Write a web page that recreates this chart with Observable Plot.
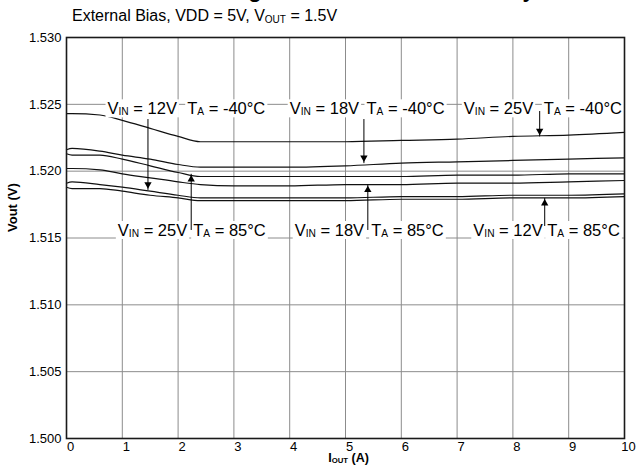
<!DOCTYPE html>
<html><head><meta charset="utf-8">
<script src="https://cdn.jsdelivr.net/npm/d3@7"></script>
<script src="https://cdn.jsdelivr.net/npm/@observablehq/plot@0.6"></script>
<style>
html,body{margin:0;padding:0;background:#fff;overflow:hidden;}
#wrap{position:relative;width:637px;height:465px;overflow:hidden;font-family:"Liberation Sans",Arial,sans-serif;color:#000;}
#title{position:absolute;left:0;width:696px;text-align:center;top:-21px;font-size:22px;line-height:22px;font-weight:bold;white-space:nowrap;}
#subtitle{position:absolute;left:72px;top:8px;font-size:16px;line-height:16px;white-space:nowrap;}
#subtitle sub{font-size:10px;vertical-align:baseline;position:relative;top:2px;}
#chart{position:absolute;left:0;top:26px;}
</style></head>
<body><div id="wrap"><div id="title"></div><div id="subtitle"></div><div id="chart"></div></div>
<script>
// ---------- data ----------
const titleText = "Load Regulation and Line Accuracy";
const subtitleMain = "External Bias, VDD = 5V, V";
const subtitleSub = "OUT";
const subtitleTail = " = 1.5V";
const xLabel = "I_{OUT} (A)";
const yLabel = "Vout (V)";

const xTicks = [0, 1, 2, 3, 4, 5, 6, 7, 8, 9, 10];
const yTicks = [1.500, 1.505, 1.510, 1.515, 1.520, 1.525, 1.530];

const current = [0, 0.1, 0.6, 1.0, 1.5, 2.0, 2.4, 3, 4, 5, 6, 7, 8, 9, 10];
const seriesNames = ["VIN 25V, -40°C", "VIN 18V, -40°C", "VIN 25V, 85°C", "VIN 18V, 85°C", "VIN 12V, -40°C", "VIN 12V, 85°C"];
const vout25m40 = [1.5243, 1.5243, 1.5242, 1.5238, 1.5232, 1.5226, 1.5222, 1.5222, 1.5222, 1.5222, 1.5223, 1.5224, 1.5226, 1.5227, 1.5229];
const vout18m40 = [1.5216, 1.5217, 1.5215, 1.5212, 1.5209, 1.5205, 1.5203, 1.5203, 1.5203, 1.5204, 1.5206, 1.5207, 1.5208, 1.5209, 1.5210];
const vout25p85 = [1.5213, 1.5212, 1.5212, 1.5209, 1.5204, 1.5199, 1.5196, 1.5196, 1.5196, 1.5196, 1.5196, 1.5197, 1.5197, 1.5198, 1.5198];
const vout18p85 = [1.5202, 1.5202, 1.5201, 1.5198, 1.5195, 1.5192, 1.5190, 1.5189, 1.5189, 1.5190, 1.5190, 1.5191, 1.5191, 1.5192, 1.5193];
const vout12m40 = [1.5191, 1.5192, 1.5190, 1.5188, 1.5185, 1.5182, 1.5180, 1.5180, 1.5180, 1.5180, 1.5181, 1.5181, 1.5182, 1.5182, 1.5183];
const vout12p85 = [1.5188, 1.5187, 1.5187, 1.5185, 1.5182, 1.5180, 1.5178, 1.5178, 1.5178, 1.5178, 1.5179, 1.5179, 1.5180, 1.5180, 1.5181];
const seriesValues = [vout25m40, vout18m40, vout25p85, vout18p85, vout12m40, vout12p85];

// annotation labels (x = text start in A, row = grid value it sits on)
const labelTexts = ["V_{IN} = 12V", "T_{A} = -40°C", "V_{IN} = 18V", "T_{A} = -40°C", "V_{IN} = 25V", "T_{A} = -40°C",
                    "V_{IN} = 25V", "T_{A} = 85°C", "V_{IN} = 18V", "T_{A} = 85°C", "V_{IN} = 12V", "T_{A} = 85°C"];
const labelX = [0.735, 2.163, 4.0, 5.376, 7.12, 8.554, 0.92, 2.27, 4.09, 5.46, 7.29, 8.615];
const labelRow = [1.525, 1.525, 1.525, 1.525, 1.525, 1.525, 1.515, 1.515, 1.515, 1.515, 1.515, 1.515];

// annotation arrows
const arrowX = [1.46, 2.235, 5.33, 5.40, 8.48, 8.57];
const arrowFrom = [1.5239, 1.5156, 1.5239, 1.5156, 1.5245, 1.5159];
const arrowTo = [1.5186, 1.5198, 1.5206, 1.5190, 1.5226, 1.5180];

// ---------- build ----------
document.getElementById("title").textContent = titleText;
const st = document.getElementById("subtitle");
st.append(subtitleMain);
const sb = document.createElement("sub"); sb.textContent = subtitleSub; st.append(sb);
st.append(subtitleTail);

const rows = [];
seriesNames.forEach((s, i) => current.forEach((c, j) => rows.push({series: s, current: c, vout: seriesValues[i][j]})));
const labels = labelTexts.map((t, i) => ({text: t, x: labelX[i], y: labelRow[i]}));
const arrows = arrowX.map((x, i) => ({x, from: arrowFrom[i], to: arrowTo[i], down: arrowTo[i] < arrowFrom[i]}));

const FONT = "'Liberation Sans', Arial, Helvetica, sans-serif";
const annSize = 16.5;
const headR = 3.5;
const headOff = 2 * Math.sqrt(Math.PI * headR * headR / (3 * Math.sqrt(3)));

const plot = Plot.plot({
  width: 637,
  height: 439,
  marginLeft: 66,
  marginRight: 13,
  marginTop: 11,
  marginBottom: 27,
  style: {fontFamily: FONT, fontSize: "13px", color: "#000", background: "#fff"},
  x: {domain: [0, 10]},
  y: {domain: [1.500, 1.530]},
  marks: [
    Plot.gridX(xTicks, {stroke: "#8c8c8c", strokeOpacity: 1, strokeWidth: 1}),
    Plot.gridY(yTicks, {stroke: "#8c8c8c", strokeOpacity: 1, strokeWidth: 1}),
    Plot.line(rows, {x: "current", y: "vout", z: "series", stroke: "#111", strokeWidth: 1.2, curve: "monotone-x"}),
    Plot.text(labels.filter(d => d.y > 1.52), {x: "x", y: "y", text: "text", textAnchor: "start", lineAnchor: "bottom", dy: 10, fontSize: annSize, fill: "#000", className: "ann"}),
    Plot.text(labels.filter(d => d.y < 1.52), {x: "x", y: "y", text: "text", textAnchor: "start", lineAnchor: "bottom", dy: -2, fontSize: annSize, fill: "#000", className: "ann"}),
    Plot.link(arrows, {x1: "x", x2: "x", y1: "from", y2: "to", stroke: "#000", strokeWidth: 1}),
    Plot.dot(arrows.filter(d => d.down), {x: "x", y: "to", symbol: "triangle2", r: headR, fill: "#000", stroke: "none", rotate: 180, dy: -headOff}),
    Plot.dot(arrows.filter(d => !d.down), {x: "x", y: "to", symbol: "triangle2", r: headR, fill: "#000", stroke: "none", dy: headOff}),
    Plot.frame({stroke: "#1a1a1a", strokeWidth: 1.6}),
    Plot.axisX(xTicks, {tickSize: 0, tickPadding: 3, dx: 4, label: null, fill: "#000"}),
    Plot.axisY(yTicks, {tickSize: 0, tickPadding: 5, tickFormat: d => d.toFixed(3), label: null, fill: "#000"}),
    Plot.text([xLabel], {frameAnchor: "bottom", dx: 3, dy: 23.5, lineAnchor: "bottom", fontWeight: "bold", fontSize: 12.5, fill: "#000", className: "mk"}),
    Plot.text([yLabel], {frameAnchor: "left", rotate: -90, dx: -54, dy: -6, lineAnchor: "middle", fontWeight: "bold", fontSize: 13, fill: "#000"})
  ]
});
document.getElementById("chart").appendChild(plot);

// ---------- subscript markup + white label boxes ----------
const NS = "http://www.w3.org/2000/svg";
function markup(el, base, shift) {
  const s = el.textContent;
  const parts = s.split(/(_\{[^}]*\})/).filter(p => p);
  el.textContent = "";
  let shifted = false;
  for (const p of parts) {
    const t = document.createElementNS(NS, "tspan");
    if (p.startsWith("_{")) {
      t.textContent = p.slice(2, -1);
      t.setAttribute("font-size", (base * 0.62).toFixed(2));
      if (shift) t.setAttribute("dy", String(shift));
      shifted = !!shift;
    } else {
      t.textContent = p;
      if (shifted) { t.setAttribute("dy", String(-shift)); shifted = false; }
    }
    el.appendChild(t);
  }
}
plot.querySelectorAll("g.mk text").forEach(el => markup(el, 12.5, 0.5));
plot.querySelectorAll("g.ann text").forEach(el => {
  markup(el, annSize, 1);
  const b = el.getBBox();
  const r = document.createElementNS(NS, "rect");
  const pad = 2;
  r.setAttribute("x", b.x - pad);
  r.setAttribute("y", b.y);
  r.setAttribute("width", b.width + 2 * pad);
  r.setAttribute("height", b.height);
  r.setAttribute("fill", "#fff");
  r.setAttribute("stroke", "none");
  const tr = el.getAttribute("transform");
  if (tr) r.setAttribute("transform", tr);
  el.parentNode.insertBefore(r, el);
});
</script>
</body></html>
